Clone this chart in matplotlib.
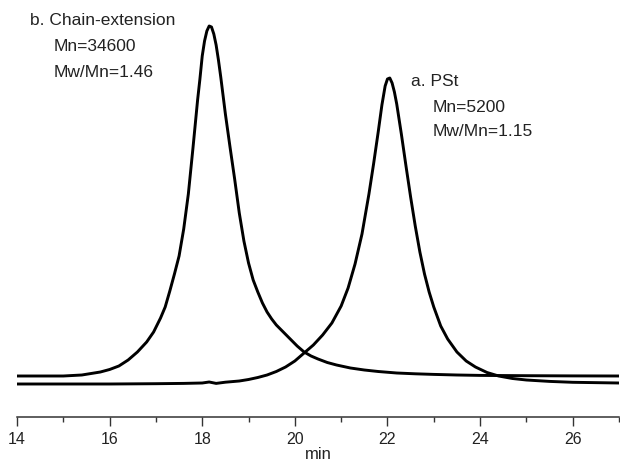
import matplotlib
matplotlib.use('Agg')
import matplotlib.pyplot as plt
from matplotlib.ticker import MultipleLocator

plt.rcParams['font.family'] = ['Liberation Sans', 'DejaVu Sans']

# GPC traces (elution time in min, detector signal in arbitrary units)
time_b = [14.0, 15.0, 15.4, 15.8, 16.0, 16.2, 16.4, 16.6, 16.8, 16.95, 17.1, 17.2, 17.3, 17.4,
          17.5, 17.6, 17.7, 17.8, 17.9, 17.95, 18.0, 18.05, 18.1, 18.15, 18.2, 18.25, 18.3,
          18.35, 18.4, 18.5, 18.6, 18.7, 18.8, 18.9, 19.0, 19.1, 19.2, 19.3, 19.4, 19.5,
          19.6, 19.75, 19.9, 20.05, 20.2, 20.35, 20.5, 20.7, 20.9, 21.2, 21.5, 21.8, 22.2,
          22.6, 23.0, 23.5, 24.0, 25.0, 26.0, 27.0]
signal_b = [8, 8, 9, 12, 14.5, 18, 24, 32, 42, 52, 66, 77, 93, 110,
            128, 155, 190, 236, 284, 305, 328, 343, 353, 358, 357, 350, 339,
            324, 307, 270, 237, 205, 171, 143, 121, 104, 92, 81, 72, 65,
            59, 52, 45, 38, 32, 28, 25, 21.5, 19, 16, 14, 12.5, 11,
            10.2, 9.6, 9, 8.6, 8.3, 8.1, 8]

time_a = [14.0, 16.0, 17.0, 17.6, 18.0, 18.15, 18.3, 18.5, 18.8, 19.0, 19.2, 19.4, 19.6,
          19.8, 20.0, 20.2, 20.4, 20.6, 20.8, 21.0, 21.15, 21.3, 21.45, 21.6, 21.7, 21.8,
          21.88, 21.95, 22.0, 22.05, 22.1, 22.15, 22.2, 22.3, 22.4, 22.5, 22.6, 22.7, 22.8,
          22.9, 23.0, 23.15, 23.3, 23.5, 23.7, 23.9, 24.15, 24.4, 24.7, 25.0, 25.5, 26.0,
          27.0]
signal_a = [0, 0, 0.3, 0.6, 1.0, 2.0, 0.6, 1.8, 3, 4.5, 6.5, 9, 12.5,
            17, 23, 31, 39, 49, 61, 78, 96, 120, 150, 190, 220, 252,
            279, 298, 305, 306, 301, 292, 280, 250, 218, 187, 158, 132, 110,
            92, 77, 58, 45, 32, 23, 17, 11.5, 8, 5.5, 4, 2.6, 1.7,
            1]

xticks = [14, 16, 18, 20, 22, 24, 26]

fig = plt.figure(figsize=(6.2, 4.67), dpi=100)
ax = fig.add_axes([17 / 620, 1 - 417 / 467, 602 / 620, 417 / 467])

ax.plot(time_b, signal_b, color='black', lw=2.1)
ax.plot(time_a, signal_a, color='black', lw=2.1)

ax.set_xlim(14, 27)
ax.set_ylim(-33, 384)

for side in ['left', 'right', 'top']:
    ax.spines[side].set_visible(False)
ax.spines['bottom'].set_linewidth(1.1)
ax.spines['bottom'].set_color('#333333')
ax.set_yticks([])
ax.set_xticks(xticks)
ax.xaxis.set_minor_locator(MultipleLocator(1))
ax.tick_params(axis='x', which='major', direction='out', length=6.5, width=1.0,
               colors='#333333', labelsize=11.5, pad=4, labelcolor='#222222')
ax.tick_params(axis='x', which='minor', direction='out', length=3.5, width=1.0,
               colors='#333333')
ax.set_xlabel('min', fontsize=12, labelpad=0, color='#222222')

txt = dict(fontsize=12.5, va='center', ha='left', color='#222222')
ax.text(14.28, 364, 'b. Chain-extension', **txt)
ax.text(14.8, 338, 'Mn=34600', **txt)
ax.text(14.8, 312, 'Mw/Mn=1.46', **txt)

ax.text(22.5, 303, 'a. PSt', **txt)
ax.text(22.98, 277, 'Mn=5200', **txt)
ax.text(22.98, 253, 'Mw/Mn=1.15', **txt)

fig.savefig('out.png', dpi=100)
